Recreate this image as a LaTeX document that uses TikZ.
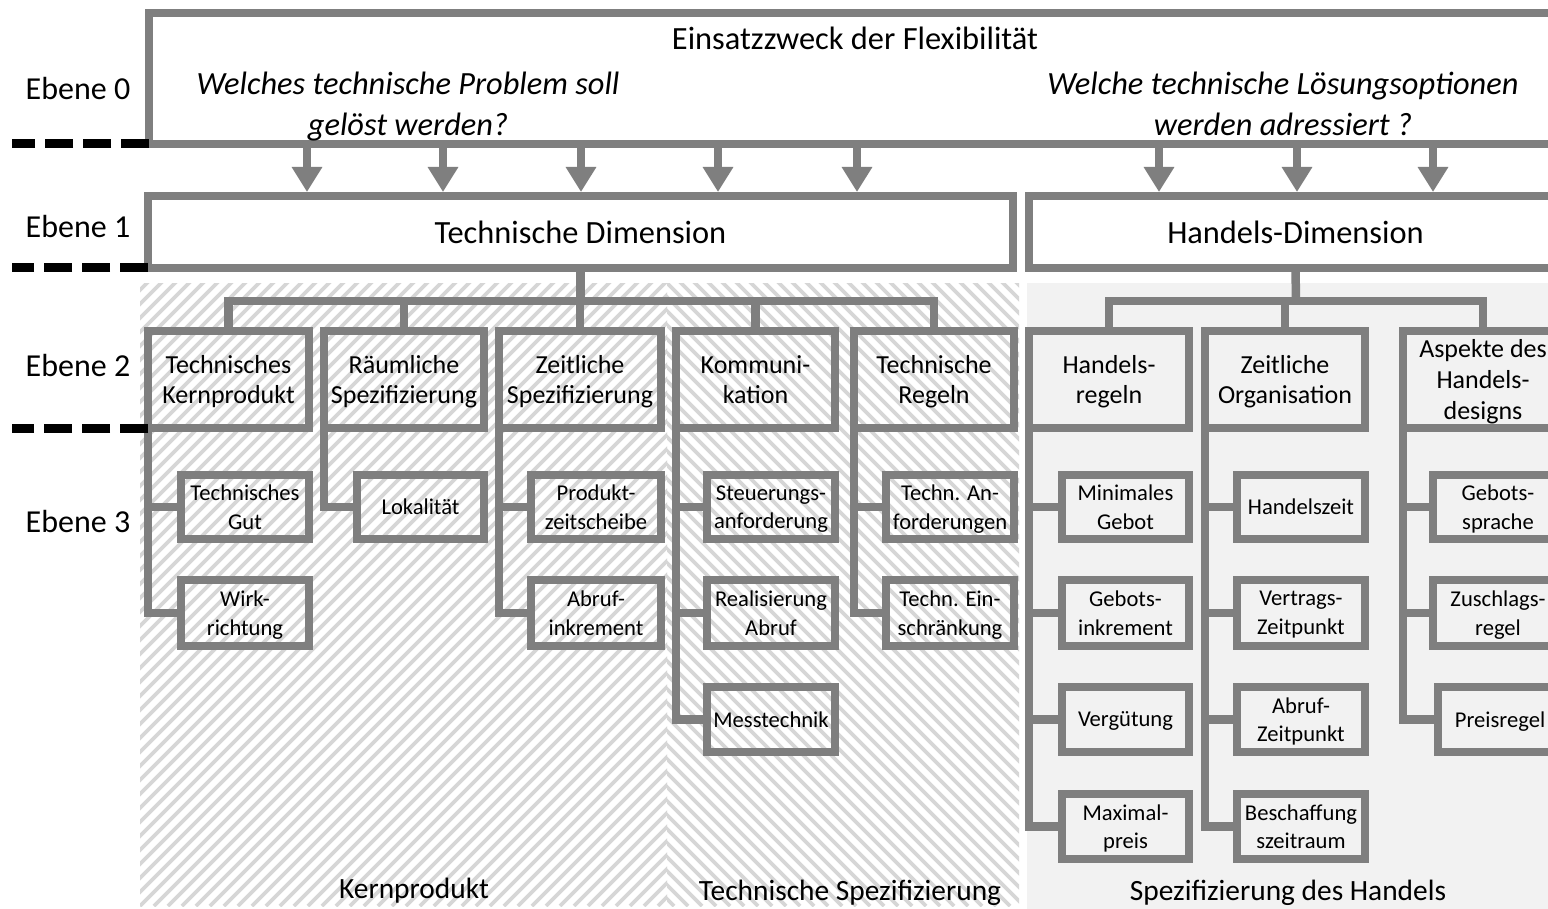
\documentclass[tikz,border=0pt]{standalone}
\usepackage{fontspec}
\setmainfont{Carlito}
\usetikzlibrary{arrows.meta}

\definecolor{boxgray}{HTML}{7F7F7F}
\definecolor{hatchgray}{HTML}{D6D6D6}
\definecolor{panelgray}{HTML}{F2F2F2}

\tikzset{
  fromto/.style n args={4}{at={({(#1+#3)/2},{(#2+#4)/2})},
    minimum width={(#3-#1)*0.5pt}, minimum height={(#4-#2)*0.5pt}},
  frame/.style={draw=boxgray, line width=4.25pt, inner sep=0pt, outer sep=0pt, align=center},
  whiteframe/.style={frame, fill=white},
  lvltwo/.style={frame, font=\fontsize{13}{15}\selectfont, text depth=0pt},
  lvlthree/.style={frame, font=\fontsize{11.3}{14.3}\selectfont, text depth=0pt},
  conn/.style={draw=boxgray, line width=4.25pt},
  arr/.style={conn, -{Triangle[width=14.5pt,length=12.5pt]}},
  levelline/.style={draw=black, line width=4.5pt, dash pattern=on 14pt off 5pt},
  ebene/.style={font=\fontsize{16}{19}\selectfont},
  hatch/.style={draw=hatchgray, line width=1.9pt},
  areatitle/.style={font=\fontsize{14.7}{17}\selectfont},
  question/.style={align=center, font=\fontsize{16.2}{20.5}\selectfont\itshape},
}

\begin{document}
\begin{tikzpicture}[x=0.5pt, y=-0.5pt, font=\fontsize{16.2}{20.5}\selectfont]
  \useasboundingbox (0,0) rectangle (1548,909);
  \clip (0,0) rectangle (1548,909);
  \fill[white] (0,0) rectangle (1548,909);

  % background areas of level 2 and 3
  \begin{scope}
    \clip (140,284) rectangle (667,906);
    \foreach \x in {-560,-546,...,680} \draw[hatch] (\x,906) -- ++(700,-700);
  \end{scope}
  \begin{scope}
    \clip (667,284) rectangle (1019,906);
    \foreach \x in {-40,-26,...,1030} \draw[hatch] (\x,206) -- ++(700,700);
  \end{scope}
  \fill[panelgray] (1027,283) rectangle (1548,909);

  % level 0
  \node[whiteframe, fromto={149}{13}{1562}{144}] (purpose) {};
  \node (purposetitle) at (855,38) {Einsatzzweck der Flexibilität};
  \node[question] (qtech) at (408,107) {Welches technische Problem soll\\gelöst werden?};
  \node[question] (qtrade) at (1283,104) {Welche technische Lösungsoptionen\\werden adressiert ?};

  % level 1
  \node[whiteframe, fromto={148}{196}{1013}{268}] (techdim) {Technische Dimension};
  \node[whiteframe, fromto={1029}{196}{1562}{268}] (tradedim) {Handels-Dimension};

  \foreach \x in {307,443,581,718,857}
    \draw[arr] (\x,148) -- (\x,192);
  \foreach \x in {1159,1297,1433}
    \draw[arr] (\x,148) -- (\x,192);

  % level 2, technical dimension
  \node[lvltwo, fromto={148}{331}{309}{428}] (kern) {Technisches\\Kernprodukt};
  \node[lvltwo, fromto={324}{331}{484}{428}] (raum) {Räumliche\\Spezifizierung};
  \node[lvltwo, fromto={499}{331}{661}{428}] (zeit) {Zeitliche\\Spezifizierung};
  \node[lvltwo, fromto={676}{331}{835}{428}] (komm) {Kommuni-\\kation};
  \node[lvltwo, fromto={854}{331}{1014}{428}] (regeln) {Technische\\Regeln};

  \coordinate (busL) at (580.5,301);
  \draw[conn] (techdim.south) -- (busL);
  \draw[conn] (kern.north) -- (kern.north |- busL) -- (regeln.north |- busL) -- (regeln.north);
  \foreach \n in {raum,zeit,komm}
    \draw[conn] (\n.north) -- (\n.north |- busL);

  % level 2, trading dimension
  \node[lvltwo, fromto={1029}{331}{1189}{428}] (hregeln) {Handels-\\regeln};
  \node[lvltwo, fromto={1205}{331}{1365}{428}] (org) {Zeitliche\\Organisation};
  \node[lvltwo, fromto={1403}{331}{1563}{428}, font=\fontsize{13}{15.5}\selectfont] (design) {Aspekte des\\Handels-\\designs};

  \coordinate (busR) at (1296,301);
  \draw[conn] (tradedim.south) -- (busR);
  \draw[conn] (hregeln.north) -- (hregeln.north |- busR) -- (design.north |- busR) -- (design.north);
  \draw[conn] (org.north) -- (org.north |- busR);

  % level 3, technical dimension
  \node[lvlthree, fromto={181}{475}{309}{539}] (gut) {Technisches\\Gut};
  \node[lvlthree, fromto={181}{580}{309}{646}] (wirk) {Wirk-\\richtung};
  \node[lvlthree, fromto={357}{475}{484}{539}] (lokal) {Lokalität};
  \node[lvlthree, fromto={531}{475}{661}{539}] (scheibe) {Produkt-\\zeitscheibe};
  \node[lvlthree, fromto={531}{580}{661}{646}] (inkr) {Abruf-\\inkrement};
  \node[lvlthree, fromto={707}{475}{835}{539}] (steuer) {Steuerungs-\\anforderung};
  \node[lvlthree, fromto={707}{580}{835}{646}] (realis) {Realisierung\\Abruf};
  \node[lvlthree, fromto={707}{687}{835}{752}] (mess) {Messtechnik};
  \node[lvlthree, fromto={886}{475}{1014}{539}] (anf) {Techn. An-\\forderungen};
  \node[lvlthree, fromto={886}{580}{1014}{646}] (einschr) {Techn. Ein-\\schränkung};

  % level 3, trading dimension
  \node[lvlthree, fromto={1062}{475}{1189}{539}] (mingebot) {Minimales\\Gebot};
  \node[lvlthree, fromto={1062}{580}{1189}{646}] (gebinkr) {Gebots-\\inkrement};
  \node[lvlthree, fromto={1062}{687}{1189}{752}] (verg) {Vergütung};
  \node[lvlthree, fromto={1062}{794}{1189}{859}] (maxpreis) {Maximal-\\preis};
  \node[lvlthree, fromto={1237}{475}{1365}{539}] (hzeit) {Handelszeit};
  \node[lvlthree, fromto={1237}{580}{1365}{646}] (vertrag) {Vertrags-\\Zeitpunkt};
  \node[lvlthree, fromto={1237}{687}{1365}{752}] (abrufzp) {Abruf-\\Zeitpunkt};
  \node[lvlthree, fromto={1237}{794}{1365}{859}] (beschaff) {Beschaffung\\szeitraum};
  \node[lvlthree, fromto={1433}{475}{1563}{539}] (sprache) {Gebots-\\sprache};
  \node[lvlthree, fromto={1433}{580}{1563}{646}] (zuschlag) {Zuschlags-\\regel};
  \node[lvlthree, fromto={1438}{687}{1562}{752}] (preisregel) {Preisregel};

  % tree connectors from each level-2 box to its children
  \foreach \p/\c in {kern/gut, kern/wirk, raum/lokal, zeit/scheibe, zeit/inkr,
                     komm/steuer, komm/realis, komm/mess, regeln/anf, regeln/einschr,
                     hregeln/mingebot, hregeln/gebinkr, hregeln/verg, hregeln/maxpreis,
                     org/hzeit, org/vertrag, org/abrufzp, org/beschaff,
                     design/sprache, design/zuschlag, design/preisregel}
    \draw[conn] (\p.south west) |- (\c.west);

  % area titles
  \node[areatitle] (areakern) at (414,891) {Kernprodukt};
  \node[areatitle] (areaspec) at (850,893) {Technische Spezifizierung};
  \node[areatitle] (areatrade) at (1288,893) {Spezifizierung des Handels};

  % level markers
  \coordinate (m0) at (12,144);
  \coordinate (m1) at (12,268);
  \coordinate (m2) at (12,428);
  \draw[levelline] (purpose.south west) -- (m0);
  \draw[levelline] (techdim.south west) -- (m1);
  \draw[levelline] (kern.south west) -- (m2);
  \node[ebene] (e0) at (78,89) {Ebene 0};
  \node[ebene] (e1) at (78,227) {Ebene 1};
  \node[ebene] (e2) at (78,366) {Ebene 2};
  \node[ebene] (e3) at (78,521) {Ebene 3};
\end{tikzpicture}
\end{document}
